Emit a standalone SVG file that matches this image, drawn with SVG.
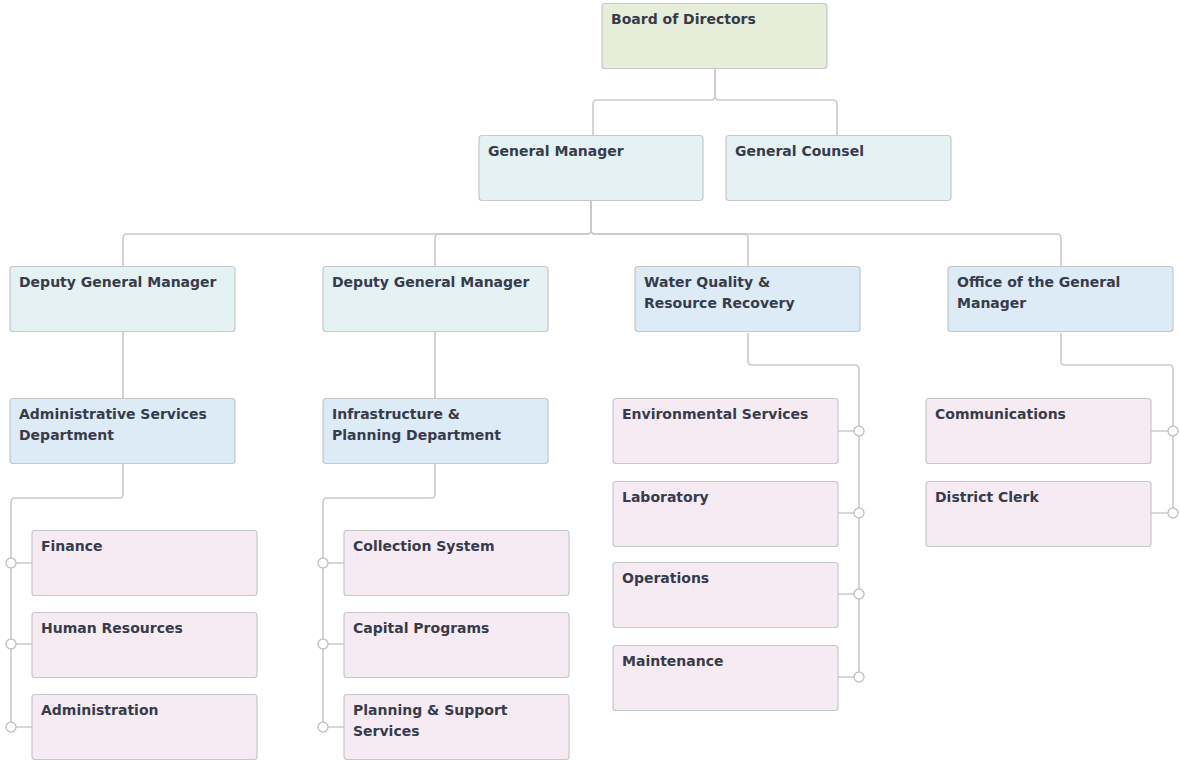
<svg xmlns="http://www.w3.org/2000/svg" width="1180" height="761" viewBox="0 0 1180 761">
<style>
.box{stroke:#c4c7cc;stroke-width:1.2}
.green{fill:#e6eed9}
.teal{fill:#e4f2f4}
.blue{fill:#dcebf6}
.pink{fill:#f6ebf3}
.lbl{font-family:"DejaVu Sans",Verdana,sans-serif;font-weight:bold;font-size:14px;fill:#373b4b}
.ln{fill:none;stroke:#cacacf;stroke-width:1.6}
.dot{fill:#ffffff;stroke:#c2c2c8;stroke-width:1.4}
</style>
<rect width="1180" height="761" fill="#ffffff"/>
<g id="connectors">
<path class="ln" d="M715 69 V96 Q715 100 711 100 H597 Q593 100 593 104 V135"/>
<path class="ln" d="M715 69 V96 Q715 100 719 100 H833 Q837 100 837 104 V135"/>
<path class="ln" d="M591 201 V230 Q591 234 587 234 H127 Q123 234 123 238 V266"/>
<path class="ln" d="M591 201 V230 Q591 234 587 234 H439 Q435 234 435 238 V266"/>
<path class="ln" d="M591 201 V230 Q591 234 595 234 H744 Q748 234 748 238 V266"/>
<path class="ln" d="M591 201 V230 Q591 234 595 234 H1057 Q1061 234 1061 238 V266"/>
<path class="ln" d="M123 332 V398"/>
<path class="ln" d="M435 332 V398"/>
<path class="ln" d="M123 464 V494 Q123 498 119 498 H15 Q11 498 11 502 V727"/>
<path class="ln" d="M16 563 H32 M16 644 H32 M16 727 H32"/>
<path class="ln" d="M435 464 V494 Q435 498 431 498 H327 Q323 498 323 502 V727"/>
<path class="ln" d="M328 563 H344 M328 644 H344 M328 727 H344"/>
<path class="ln" d="M748 333 V361 Q748 365 752 365 H855 Q859 365 859 369 V677"/>
<path class="ln" d="M838 431 H854 M838 513 H854 M838 594 H854 M838 677 H854"/>
<path class="ln" d="M1061 333 V361 Q1061 365 1065 365 H1169 Q1173 365 1173 369 V513"/>
<path class="ln" d="M1151 431 H1168 M1151 513 H1168"/>
<circle class="dot" cx="11" cy="563" r="5"/>
<circle class="dot" cx="11" cy="644" r="5"/>
<circle class="dot" cx="11" cy="727" r="5"/>
<circle class="dot" cx="323" cy="563" r="5"/>
<circle class="dot" cx="323" cy="644" r="5"/>
<circle class="dot" cx="323" cy="727" r="5"/>
<circle class="dot" cx="859" cy="431" r="5"/>
<circle class="dot" cx="859" cy="513" r="5"/>
<circle class="dot" cx="859" cy="594" r="5"/>
<circle class="dot" cx="859" cy="677" r="5"/>
<circle class="dot" cx="1173" cy="431" r="5"/>
<circle class="dot" cx="1173" cy="513" r="5"/>
</g>
<g id="board"><rect class="box green" x="602" y="3.5" width="225" height="65" rx="3"/><text class="lbl" x="611" y="24">Board of Directors</text></g>
<g id="gm"><rect class="box teal" x="479" y="135.5" width="224" height="65" rx="3"/><text class="lbl" x="488" y="156">General Manager</text></g>
<g id="gc"><rect class="box teal" x="726" y="135.5" width="225" height="65" rx="3"/><text class="lbl" x="735" y="156">General Counsel</text></g>
<g id="dgm1"><rect class="box teal" x="10" y="266.5" width="225" height="65" rx="3"/><text class="lbl" x="19" y="287">Deputy General Manager</text></g>
<g id="dgm2"><rect class="box teal" x="323" y="266.5" width="225" height="65" rx="3"/><text class="lbl" x="332" y="287">Deputy General Manager</text></g>
<g id="wq"><rect class="box blue" x="635" y="266.5" width="225" height="65" rx="3"/><text class="lbl" x="644" y="287">Water Quality &amp;</text><text class="lbl" x="644" y="308">Resource Recovery</text></g>
<g id="ogm"><rect class="box blue" x="948" y="266.5" width="225" height="65" rx="3"/><text class="lbl" x="957" y="287">Office of the General</text><text class="lbl" x="957" y="308">Manager</text></g>
<g id="asd"><rect class="box blue" x="10" y="398.5" width="225" height="65" rx="3"/><text class="lbl" x="19" y="419">Administrative Services</text><text class="lbl" x="19" y="440">Department</text></g>
<g id="ipd"><rect class="box blue" x="323" y="398.5" width="225" height="65" rx="3"/><text class="lbl" x="332" y="419">Infrastructure &amp;</text><text class="lbl" x="332" y="440">Planning Department</text></g>
<g id="finance"><rect class="box pink" x="32" y="530.5" width="225" height="65" rx="3"/><text class="lbl" x="41" y="551">Finance</text></g>
<g id="hr"><rect class="box pink" x="32" y="612.5" width="225" height="65" rx="3"/><text class="lbl" x="41" y="633">Human Resources</text></g>
<g id="admin"><rect class="box pink" x="32" y="694.5" width="225" height="65" rx="3"/><text class="lbl" x="41" y="715">Administration</text></g>
<g id="collection"><rect class="box pink" x="344" y="530.5" width="225" height="65" rx="3"/><text class="lbl" x="353" y="551">Collection System</text></g>
<g id="capital"><rect class="box pink" x="344" y="612.5" width="225" height="65" rx="3"/><text class="lbl" x="353" y="633">Capital Programs</text></g>
<g id="planning"><rect class="box pink" x="344" y="694.5" width="225" height="65" rx="3"/><text class="lbl" x="353" y="715">Planning &amp; Support</text><text class="lbl" x="353" y="736">Services</text></g>
<g id="env"><rect class="box pink" x="613" y="398.5" width="225" height="65" rx="3"/><text class="lbl" x="622" y="419">Environmental Services</text></g>
<g id="lab"><rect class="box pink" x="613" y="481.5" width="225" height="65" rx="3"/><text class="lbl" x="622" y="502">Laboratory</text></g>
<g id="ops"><rect class="box pink" x="613" y="562.5" width="225" height="65" rx="3"/><text class="lbl" x="622" y="583">Operations</text></g>
<g id="maint"><rect class="box pink" x="613" y="645.5" width="225" height="65" rx="3"/><text class="lbl" x="622" y="666">Maintenance</text></g>
<g id="comm"><rect class="box pink" x="926" y="398.5" width="225" height="65" rx="3"/><text class="lbl" x="935" y="419">Communications</text></g>
<g id="clerk"><rect class="box pink" x="926" y="481.5" width="225" height="65" rx="3"/><text class="lbl" x="935" y="502">District Clerk</text></g>
</svg>
